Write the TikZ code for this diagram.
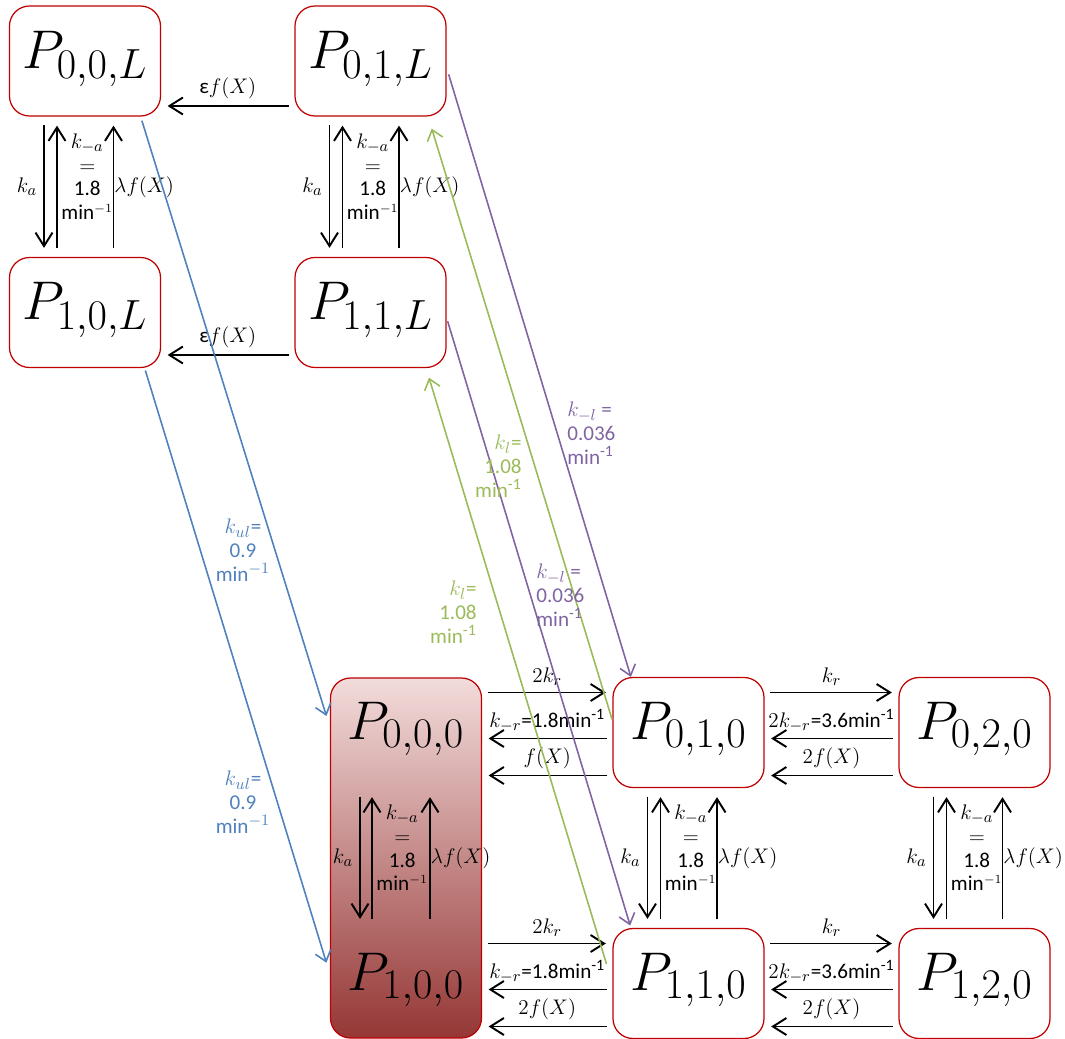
\RequirePackage{fix-cm}
\documentclass[tikz,border=0pt]{standalone}
\usepackage[no-math]{fontspec}
\setmainfont{Carlito}
\usetikzlibrary{arrows.meta}

% larger scripts, closer to the rates and state names
\DeclareMathSizes{31}{31}{24}{18}
\DeclareMathSizes{12}{12}{9}{7}

\definecolor{boxred}{RGB}{192,0,0}
\definecolor{ulblue}{RGB}{79,129,189}
\definecolor{lopurple}{RGB}{128,100,162}
\definecolor{logreen}{RGB}{155,187,89}
\definecolor{paletop}{RGB}{242,220,219}
\definecolor{darkbot}{RGB}{149,55,53}

\tikzset{
  pbox/.style={draw=boxred, line width=0.7pt, rounded corners=4mm,
    minimum width=30.2mm, minimum height=22mm, inner sep=0pt,
    text height=21pt, text depth=13pt, font=\fontsize{31}{36}\selectfont},
  ghost/.style={pbox, draw=none},
  rate/.style={font=\fontsize{12}{13.5}\selectfont},
  arr/.style={-{Straight Barb[length=2.7mm,width=3.4mm]}, line width=1.1pt, rate},
  harr/.style={arr, shorten <=1.1mm, shorten >=1.3mm},
  varr/.style={arr, shorten <=1.7mm, shorten >=1.8mm},
  diag/.style={-{Straight Barb[length=2mm,width=3.2mm]}, line width=0.9pt},
  stack/.style={midway, right, align=center, inner sep=0.5pt, xshift=1.5pt, yshift=2mm},
  lam/.style={midway, right, inner sep=0pt},
}

\begin{document}
\begin{tikzpicture}[x=0.2mm, y=-0.2mm]
\useasboundingbox (0,0) rectangle (1065,1039);

% loaded states
\node[pbox] (P00L) at (85,61) {$P_{0,0,L}$};
\node[pbox] (P01L) at (370.5,61) {$P_{0,1,L}$};
\node[pbox] (P10L) at (85,312.5) {$P_{1,0,L}$};
\node[pbox] (P11L) at (370.5,312.5) {$P_{1,1,L}$};

% shaded frame holding P000 and P100
\node[draw=boxred, line width=0.7pt, rounded corners=4mm, top color=paletop,
  bottom color=darkbot, minimum width=30.2mm, minimum height=72mm] (Base) at (406,858) {};
\node[ghost] (P000) at (406,732.5) {$P_{0,0,0}$};
\node[ghost] (P100) at (406,983.5) {$P_{1,0,0}$};

\node[pbox] (P010) at (688.5,732.5) {$P_{0,1,0}$};
\node[pbox] (P020) at (974.5,732.5) {$P_{0,2,0}$};
\node[pbox] (P110) at (688.5,983.5) {$P_{1,1,0}$};
\node[pbox] (P120) at (974.5,983.5) {$P_{1,2,0}$};

% top block
\draw[harr] ([yshift=-9mm]P01L.west) -- ([yshift=-9mm]P00L.east) node[midway,above] {ε$f(X)$};
\draw[harr] ([yshift=-8.5mm]P11L.west) -- ([yshift=-8.5mm]P10L.east) node[midway,above] {ε$f(X)$};

\draw[varr] ([xshift=-8.2mm]P00L.south) -- ([xshift=-8.2mm]P10L.north) node[midway,left] {$k_a$};
\draw[varr] ([xshift=-5.6mm]P10L.north) -- ([xshift=-5.6mm]P00L.south) node[stack] {$k_{-a}$\\$=$\\1.8\\min$^{\scriptscriptstyle -1}$};
\draw[varr] ([xshift=5.7mm]P10L.north) -- ([xshift=5.7mm]P00L.south) node[lam] {$\lambda f(X)$};

\draw[varr] ([xshift=-8.2mm]P01L.south) -- ([xshift=-8.2mm]P11L.north) node[midway,left] {$k_a$};
\draw[varr] ([xshift=-5.6mm]P11L.north) -- ([xshift=-5.6mm]P01L.south) node[stack] {$k_{-a}$\\$=$\\1.8\\min$^{\scriptscriptstyle -1}$};
\draw[varr] ([xshift=5.7mm]P11L.north) -- ([xshift=5.7mm]P01L.south) node[lam] {$\lambda f(X)$};

% bottom block, row 0
\draw[harr] ([yshift=8mm]P000.east) -- ([yshift=8mm]P010.west) node[midway,above] {$2k_r$};
\draw[harr] ([yshift=-1.2mm]P010.west) -- ([yshift=-1.2mm]P000.east) node[midway,above] {$k_{-r}$=1.8min\textsuperscript{-1}};
\draw[harr] ([yshift=-8.6mm]P010.west) -- ([yshift=-8.6mm]P000.east) node[midway,above] {$f(X)$};

\draw[harr] ([yshift=8mm]P010.east) -- ([yshift=8mm]P020.west) node[midway,above] {$k_r$};
\draw[harr] ([yshift=-1.2mm]P020.west) -- ([yshift=-1.2mm]P010.east) node[midway,above] {$2k_{-r}$=3.6min\textsuperscript{-1}};
\draw[harr] ([yshift=-8.6mm]P020.west) -- ([yshift=-8.6mm]P010.east) node[midway,above] {$2f(X)$};

% bottom block, row 1
\draw[harr] ([yshift=8mm]P100.east) -- ([yshift=8mm]P110.west) node[midway,above] {$2k_r$};
\draw[harr] ([yshift=-1.2mm]P110.west) -- ([yshift=-1.2mm]P100.east) node[midway,above] {$k_{-r}$=1.8min\textsuperscript{-1}};
\draw[harr] ([yshift=-8.6mm]P110.west) -- ([yshift=-8.6mm]P100.east) node[midway,above] {$2f(X)$};

\draw[harr] ([yshift=8mm]P110.east) -- ([yshift=8mm]P120.west) node[midway,above] {$k_r$};
\draw[harr] ([yshift=-1.2mm]P120.west) -- ([yshift=-1.2mm]P110.east) node[midway,above] {$2k_{-r}$=3.6min\textsuperscript{-1}};
\draw[harr] ([yshift=-8.6mm]P120.west) -- ([yshift=-8.6mm]P110.east) node[midway,above] {$2f(X)$};

% columns
\draw[varr] ([xshift=-9.2mm]P000.south) -- ([xshift=-9.2mm]P100.north) node[midway,left] {$k_a$};
\draw[varr] ([xshift=-6.8mm]P100.north) -- ([xshift=-6.8mm]P000.south) node[stack] {$k_{-a}$\\$=$\\1.8\\min$^{\scriptscriptstyle -1}$};
\draw[varr] ([xshift=4.8mm]P100.north) -- ([xshift=4.8mm]P000.south) node[lam] {$\lambda f(X)$};

\draw[varr] ([xshift=-8.2mm]P010.south) -- ([xshift=-8.2mm]P110.north) node[midway,left] {$k_a$};
\draw[varr] ([xshift=-5.6mm]P110.north) -- ([xshift=-5.6mm]P010.south) node[stack] {$k_{-a}$\\$=$\\1.8\\min$^{\scriptscriptstyle -1}$};
\draw[varr] ([xshift=5.7mm]P110.north) -- ([xshift=5.7mm]P010.south) node[lam] {$\lambda f(X)$};

\draw[varr] ([xshift=-8.2mm]P020.south) -- ([xshift=-8.2mm]P120.north) node[midway,left] {$k_a$};
\draw[varr] ([xshift=-5.6mm]P120.north) -- ([xshift=-5.6mm]P020.south) node[stack] {$k_{-a}$\\$=$\\1.8\\min$^{\scriptscriptstyle -1}$};
\draw[varr] ([xshift=5.6mm]P120.north) -- ([xshift=5.6mm]P020.south) node[lam] {$\lambda f(X)$};

% unloading / loading
\draw[diag, ulblue, shorten <=0.85mm, shorten >=2.35mm] (P00L.-45) -- (P000.176.7);
\draw[diag, ulblue, shorten <=0.5mm, shorten >=2.4mm] (P10L.-43) -- (P100.173);
\draw[diag, lopurple, shorten <=1.4mm] (P01L.-5.6) -- (P010.136);
\draw[diag, lopurple, shorten <=0.7mm, shorten >=0.5mm] (P11L.-4.7) -- (P110.136);
\draw[diag, logreen, shorten <=0.2mm, shorten >=2.5mm] (P010.171.5) -- (P01L.-44.6);
\draw[diag, logreen, shorten <=4.1mm, shorten >=2mm] (P110.west) -- (P11L.-45.2);

\node[rate, ulblue, align=center, inner sep=0pt] (kulA) at (243,550) {$k_{ul}$=\\0.9\\min$^{-1}$};
\node[rate, ulblue, align=center, inner sep=0pt] (kulB) at (243,802) {$k_{ul}$=\\0.9\\min$^{-1}$};
\node[rate, lopurple, align=left, anchor=west, inner sep=0pt] (klmA) at (567,433) {$k_{-l}$ =\\0.036\\min\textsuperscript{-1}};
\node[rate, lopurple, align=left, anchor=west, inner sep=0pt] (klmB) at (536,595) {$k_{-l}$ =\\0.036\\min\textsuperscript{-1}};
\node[rate, logreen, align=right, anchor=east, inner sep=0pt] (klA) at (522,466) {$k_l$=\\1.08\\min\textsuperscript{-1}};
\node[rate, logreen, align=right, anchor=east, inner sep=0pt] (klB) at (477,612) {$k_l$=\\1.08\\min\textsuperscript{-1}};
\end{tikzpicture}
\end{document}
